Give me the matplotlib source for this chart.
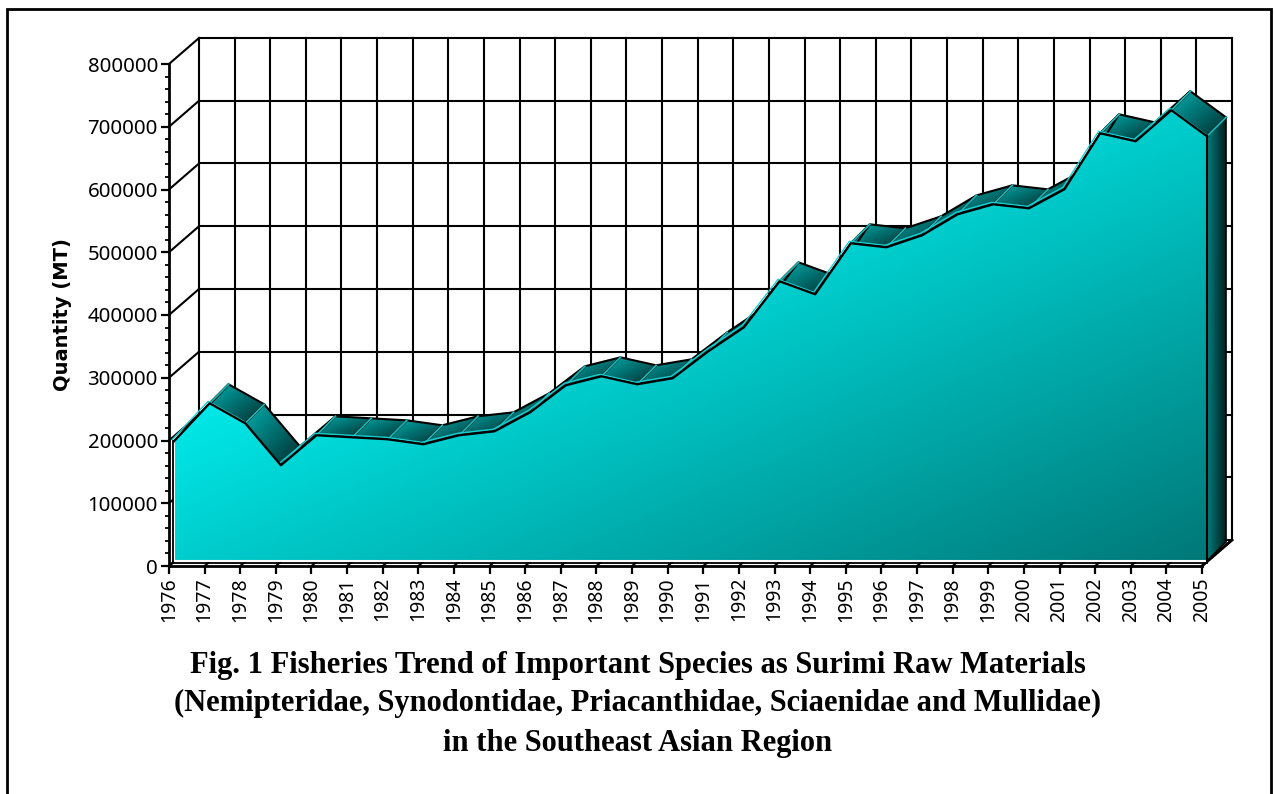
import numpy as np
import matplotlib
matplotlib.use("Agg")
import matplotlib.pyplot as plt
from matplotlib.patches import Polygon, Rectangle

years = list(range(1976, 2006))
quantity = [190800, 251300, 219400, 152500, 200300, 197100, 193900, 186000, 200300, 206700,
            237000, 280000, 294300, 281600, 291200, 334200, 372400, 445700, 425000, 506300,
            499900, 519000, 552500, 568400, 562000, 592400, 681600, 668800, 718300, 676800]
y_ticks = list(range(0, 800001, 100000))
caption = ["Fig. 1 Fisheries Trend of Important Species as Surimi Raw Materials",
           "(Nemipteridae, Synodontidae, Priacanthidae, Sciaenidae and Mullidae)",
           "in the Southeast Asian Region"]

W, H = 1274, 794
fig = plt.figure(figsize=(W / 100, H / 100), dpi=100)
# plot box in pixels, front axis plane
left, right, top, bottom = 169, 1202, 64, 566
ax = fig.add_axes([left / W, 1 - bottom / H, (right - left) / W, (bottom - top) / H])

# pixel -> data units
px = 29 / (right - left)
py = 800000 / (bottom - top)

# depth offsets, in pixels
wall = (30, 26)
near = (5, 5)
far = (24, 24)


def shift(x, y, off):
    return np.asarray(x) + off[0] * px, np.asarray(y) + off[1] * py


def gradient_fill(verts, colors, direction, zorder):
    # linear gradient over the bounding box of verts, clipped to the polygon
    verts = np.asarray(verts)
    x0, x1 = verts[:, 0].min(), verts[:, 0].max()
    y0, y1 = verts[:, 1].min(), verts[:, 1].max()
    u, v = np.meshgrid(np.linspace(0, 1, 128), np.linspace(0, 1, 128))
    t = direction[0] * u + direction[1] * v
    t = (t - t.min()) / (t.max() - t.min())
    c0, c1 = np.array(colors[0]) / 255, np.array(colors[1]) / 255
    img = np.clip(c0 + (c1 - c0) * t[..., None], 0, 1)
    im = ax.imshow(img, extent=(x0, x1, y0, y1), aspect="auto", zorder=zorder,
                   interpolation="bilinear")
    patch = Polygon(verts, closed=True, transform=ax.transData, fc="none", ec="none")
    ax.add_patch(patch)
    patch.set_clip_on(False)
    im.set_clip_box(fig.bbox)
    im.set_clip_path(patch)


# back wall and side wall grid
wx0, _ = shift(1976, 0, wall)
wx1, _ = shift(2005, 0, wall)
for v in y_ticks:
    _, wy = shift(0, v, wall)
    ax.plot([wx0, wx1], [wy, wy], color="black", lw=1.5, zorder=1, clip_on=False)
    ax.plot([1976, wx0], [v, wy], color="black", lw=1.5, zorder=1, clip_on=False)
for yr in years:
    wx, _ = shift(yr, 0, wall)
    _, wy = shift(0, 800000, wall)
    _, wy0 = shift(0, 0, wall)
    ax.plot([wx, wx], [wy0, wy], color="black", lw=1.5, zorder=1, clip_on=False)
    ax.plot([yr, wx], [0, wy0], color="black", lw=1.5, zorder=1, clip_on=False)

# white floor strip, so only the short stubs of the floor lines stay
fx0, fy0 = shift(1976, 0, near)
fx1, _ = shift(2005, 0, near)
bx0, by0 = shift(1976, 0, far)
bx1, _ = shift(2005, 0, far)
ax.add_patch(Polygon([(fx0, fy0), (fx1, fy0), (bx1, by0), (bx0, by0)], fc="white", ec="none", zorder=2, clip_on=False))
ax.plot([2005, wx1], [0, shift(0, 0, wall)[1]], color="black", lw=2, zorder=2, clip_on=False)

xf, yf = shift(years, quantity, near)
xb, yb = shift(years, quantity, far)

# ribbon segments on top of the area
for i in range(len(years) - 1):
    verts = [(xf[i], yf[i]), (xf[i + 1], yf[i + 1]), (xb[i + 1], yb[i + 1]), (xb[i], yb[i])]
    gradient_fill(verts, ((0, 175, 175), (0, 45, 45)), (1, 1), 3 + i * 0.001)
    ax.add_patch(Polygon(verts, closed=True, fc="none", ec="black", lw=1.5, zorder=3.5, clip_on=False))
    ax.plot([xf[i], xb[i]], [yf[i], yb[i]], color="#19b8b8", lw=1.3, zorder=3.6, clip_on=False)

# right hand side face
side = [(xf[-1], fy0), (xf[-1], yf[-1]), (xb[-1], yb[-1]), (xb[-1], by0)]
gradient_fill(side, ((0, 125, 125), (0, 30, 30)), (1, 0), 4)
ax.add_patch(Polygon(side, closed=True, fc="none", ec="black", lw=1.2, zorder=4.1, clip_on=False))
ax.plot([xf[-1], xb[-1]], [yf[-1], yb[-1]], color="#19b8b8", lw=1.3, zorder=4.2, clip_on=False)

# front face of the area, start colour runs past 255 so the top left stays pure cyan
front = [(xf[0], fy0)] + list(zip(xf, yf)) + [(xf[-1], fy0)]
gradient_fill(front, ((0, 290, 290), (0, 120, 120)), (1, 1), 5)
ax.plot(xf, yf, color="black", lw=1.6, zorder=5.5, clip_on=False)
ax.plot(xf - 1.5 * px, yf + 2 * py, color="#19d0d0", lw=1.0, zorder=3.7, clip_on=False)
ax.plot([xf[-1], xf[-1]], [fy0, yf[-1]], color="black", lw=1.5, zorder=5.5, clip_on=False)
# white highlight and black rim on the left and bottom of the face
ax.plot([xf[0], xf[0], xf[-1]], [yf[0], fy0, fy0], color="white", lw=1.5, zorder=5.4, clip_on=False)
ax.plot([xf[0] - 1.5 * px, xf[0] - 1.5 * px], [fy0 - py, yf[0]], color="black", lw=1.3, zorder=5.4, clip_on=False)
ax.plot([xf[0] - 1.5 * px, xf[-1]], [fy0 - 2 * py, fy0 - 2 * py], color="black", lw=1.3, zorder=5.4, clip_on=False)

ax.set_xlim(1976, 2005)
ax.set_ylim(0, 800000)
ax.patch.set_visible(False)
for name in ["top", "right"]:
    ax.spines[name].set_visible(False)
for name in ["left", "bottom"]:
    ax.spines[name].set_linewidth(2)
    ax.spines[name].set_zorder(6)

ax.set_xticks(years)
ax.set_xticklabels([str(y) for y in years], rotation=90, fontsize=14, color="black", family="Noto Sans")
ax.set_yticks(y_ticks)
ax.set_yticklabels([str(v) for v in y_ticks], fontsize=14.7, color="black", family="Noto Sans")
ax.set_yticks(list(range(0, 800001, 20000)), minor=True)
ax.tick_params(axis="both", which="major", length=6, width=1.6, pad=2)
ax.tick_params(axis="y", which="minor", length=3, width=1.3)

fig.text(62 / W, 1 - 315 / H, "Quantity (MT)", rotation=90, ha="center", va="center",
         fontsize=14, fontweight="bold", family="DejaVu Sans")
for line, ypos in zip(caption, [665, 703, 743]):
    fig.text(638 / W, 1 - ypos / H, line, ha="center", va="center", fontsize=22,
             fontweight="bold", family="Liberation Serif")

# outer frame
fig.add_artist(Rectangle((7 / W, -0.02), (1271 - 7) / W, 1.02 - 9 / H, transform=fig.transFigure,
                         fc="none", ec="black", lw=2))

fig.savefig("out.png", dpi=100)
